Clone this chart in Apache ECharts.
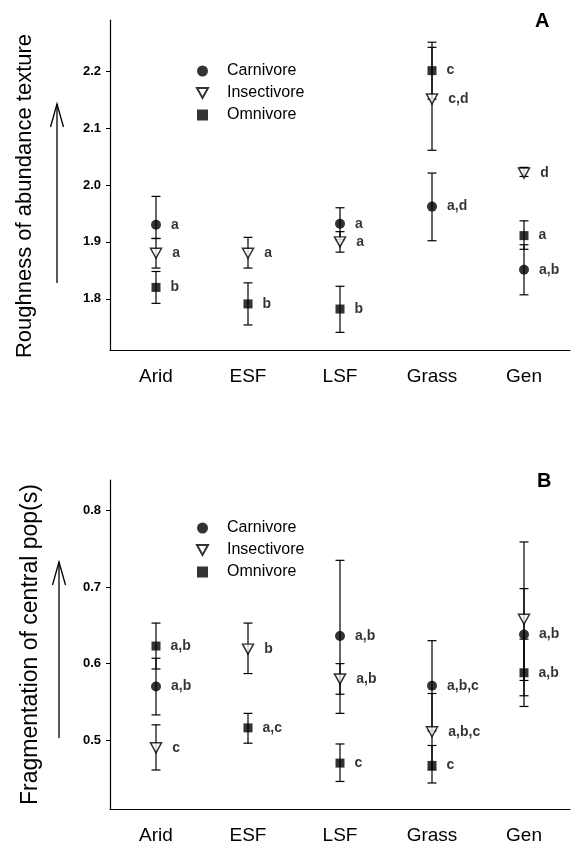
<!DOCTYPE html>
<html>
<head>
<meta charset="utf-8">
<script src="https://cdn.jsdelivr.net/npm/echarts@6/dist/echarts.min.js"></script>
<style>
  html, body { margin: 0; padding: 0; background: #fff; }
  #chart { width: 575px; height: 845px; }
</style>
</head>
<body>
<div id="chart"></div>
<script>
var habitats = ['Arid', 'ESF', 'LSF', 'Grass', 'Gen'];

// panel A - roughness of abundance texture
var roughCarnMean = [1.930, null, 1.932, 1.962, 1.851];
var roughCarnLow  = [1.906, null, 1.904, 1.902, 1.807];
var roughCarnHigh = [1.980, null, 1.960, 2.021, 1.895];
var roughCarnSig  = ['a', '', 'a', 'a,d', 'a,b'];

var roughInsMean = [1.880, 1.880, 1.900, 2.151, 2.021];
var roughInsLow  = [1.854, 1.854, 1.882, 2.061, 2.015];
var roughInsHigh = [1.906, 1.908, 1.918, 2.242, 2.031];
var roughInsSig  = ['a', 'a', 'a', 'c,d', 'd'];

var roughOmnMean = [1.820, 1.791, 1.782, 2.201, 1.911];
var roughOmnLow  = [1.792, 1.754, 1.741, 2.151, 1.887];
var roughOmnHigh = [1.848, 1.828, 1.822, 2.251, 1.937];
var roughOmnSig  = ['b', 'b', 'b', 'c', 'a'];

var roughTicks = [1.8, 1.9, 2.0, 2.1, 2.2];

// panel B - fragmentation of central pop(s)
var fragCarnMean = [0.570, null, 0.636, 0.571, 0.638];
var fragCarnLow  = [0.533, null, 0.535, 0.512, 0.578];
var fragCarnHigh = [0.607, null, 0.735, 0.630, 0.698];
var fragCarnSig  = ['a,b', '', 'a,b', 'a,b,c', 'a,b'];

var fragInsMean = [0.490, 0.619, 0.580, 0.511, 0.658];
var fragInsLow  = [0.461, 0.587, 0.560, 0.461, 0.558];
var fragInsHigh = [0.520, 0.653, 0.600, 0.561, 0.759];
var fragInsSig  = ['c', 'b', 'a,b', 'a,b,c', ''];

var fragOmnMean = [0.623, 0.516, 0.470, 0.467, 0.588];
var fragOmnLow  = [0.593, 0.496, 0.446, 0.444, 0.544];
var fragOmnHigh = [0.653, 0.535, 0.495, 0.493, 0.632];
var fragOmnSig  = ['a,b', 'a,c', 'c', 'c', 'a,b'];

var fragTicks = [0.5, 0.6, 0.7, 0.8];

var FONT = 'Arial, "Liberation Sans", Helvetica, sans-serif';
var triPath = 'path://M0,0L10,0L5,9Z';

var symbolStyles = {
  Carnivore: { symbol: 'circle', symbolSize: 10, itemStyle: { color: '#000' } },
  Insectivore: { symbol: triPath, symbolSize: [11, 10], itemStyle: { color: '#fff', borderColor: '#000', borderWidth: 1.5 } },
  Omnivore: { symbol: 'rect', symbolSize: 9, itemStyle: { color: '#000' } }
};

function points(name, mean, sig, idx) {
  var data = [];
  mean.forEach(function (m, i) {
    if (m != null) data.push({ value: [i, m], sig: sig[i] });
  });
  var st = symbolStyles[name];
  return {
    name: name,
    type: 'scatter',
    xAxisIndex: idx,
    yAxisIndex: idx,
    symbol: st.symbol,
    symbolSize: st.symbolSize,
    itemStyle: st.itemStyle,
    z: 3,
    emphasis: { disabled: true },
    label: {
      show: true,
      position: 'right',
      distance: 10,
      color: '#000',
      fontFamily: FONT,
      fontWeight: 'bold',
      fontSize: 14,
      formatter: function (p) { return p.data.sig; }
    },
    data: data
  };
}

function errorBars(low, high, idx) {
  var data = [];
  low.forEach(function (l, i) {
    if (l != null) data.push([i, l, high[i]]);
  });
  return {
    type: 'custom',
    xAxisIndex: idx,
    yAxisIndex: idx,
    silent: true,
    z: 2,
    encode: { x: 0, y: [1, 2] },
    renderItem: function (params, api) {
      var lo = api.coord([api.value(0), api.value(1)]);
      var hi = api.coord([api.value(0), api.value(2)]);
      var w = 4.5;
      var st = { stroke: '#000', lineWidth: 1.2, fill: null };
      return {
        type: 'group',
        children: [
          { type: 'line', shape: { x1: lo[0], y1: lo[1], x2: hi[0], y2: hi[1] }, style: st },
          { type: 'line', shape: { x1: lo[0] - w, y1: lo[1], x2: lo[0] + w, y2: lo[1] }, style: st },
          { type: 'line', shape: { x1: hi[0] - w, y1: hi[1], x2: hi[0] + w, y2: hi[1] }, style: st }
        ]
      };
    },
    data: data
  };
}

function xAxisFor(idx) {
  return {
    type: 'category',
    gridIndex: idx,
    data: habitats,
    boundaryGap: true,
    axisLine: { lineStyle: { color: '#000', width: 1.2 } },
    axisTick: { alignWithLabel: true, length: 5, lineStyle: { color: '#000' } },
    axisLabel: { color: '#000', fontFamily: FONT, fontSize: 19, margin: 17 },
    splitLine: { show: false }
  };
}

function yAxisFor(idx, min, max, ticks, name, nameSize, gap, shift) {
  return {
    type: 'value',
    gridIndex: idx,
    min: min,
    max: max,
    name: name,
    nameLocation: 'middle',
    nameRotate: 90,
    nameGap: gap,
    nameTextStyle: { color: '#000', fontFamily: FONT, fontSize: nameSize, padding: [0, shift, 0, 0] },
    axisLine: { show: true, lineStyle: { color: '#000', width: 1.2 } },
    axisTick: { show: true, length: 4, customValues: ticks, lineStyle: { color: '#000' } },
    axisLabel: {
      color: '#000', fontFamily: FONT, fontSize: 13, fontWeight: 'bold', margin: 9,
      customValues: ticks,
      formatter: function (v) { return v.toFixed(1); }
    },
    splitLine: { show: false }
  };
}

function legendAt(top) {
  return {
    orient: 'vertical',
    left: 191,
    top: top,
    itemWidth: 11,
    itemHeight: 11,
    itemGap: 6,
    selectedMode: false,
    textStyle: { color: '#000', fontFamily: FONT, fontSize: 16, lineHeight: 16, padding: [0, 0, 0, 14] },
    data: [
      { name: 'Carnivore', icon: 'circle' },
      { name: 'Insectivore', icon: triPath },
      { name: 'Omnivore', icon: 'rect' }
    ]
  };
}

function arrow(x, y1, y2) {
  return {
    type: 'group',
    children: [
      { type: 'line', shape: { x1: x, y1: y1, x2: x, y2: y2 }, style: { stroke: '#000', lineWidth: 1.3 } },
      { type: 'polyline', shape: { points: [[x - 6.5, y1 + 23], [x, y1], [x + 6.5, y1 + 23]] }, style: { stroke: '#000', lineWidth: 1.3, fill: null } }
    ]
  };
}

var chart = echarts.init(document.getElementById('chart'), null, { renderer: 'canvas' });

var option = {
  backgroundColor: '#fff',
  animation: false,
  grid: [
    { left: 110, top: 20, width: 460, height: 330 },
    { left: 110, top: 480, width: 460, height: 329 }
  ],
  legend: [legendAt(58), legendAt(515)],
  xAxis: [xAxisFor(0), xAxisFor(1)],
  yAxis: [
    yAxisFor(0, 1.71, 2.29, roughTicks, 'Roughness of abundance texture', 22, 74, 22),
    yAxisFor(1, 0.41, 0.84, fragTicks, 'Fragmentation of central pop(s)', 23, 68, 0)
  ],
  graphic: [
    arrow(57, 104, 283),
    arrow(59, 562, 738),
    { type: 'text', left: 535, top: 11, style: { text: 'A', font: 'bold 20px ' + FONT, fill: '#000' } },
    { type: 'text', left: 537, top: 471, style: { text: 'B', font: 'bold 20px ' + FONT, fill: '#000' } }
  ],
  series: [
    errorBars(roughCarnLow, roughCarnHigh, 0),
    errorBars(roughInsLow, roughInsHigh, 0),
    errorBars(roughOmnLow, roughOmnHigh, 0),
    points('Carnivore', roughCarnMean, roughCarnSig, 0),
    points('Insectivore', roughInsMean, roughInsSig, 0),
    points('Omnivore', roughOmnMean, roughOmnSig, 0),
    errorBars(fragCarnLow, fragCarnHigh, 1),
    errorBars(fragInsLow, fragInsHigh, 1),
    errorBars(fragOmnLow, fragOmnHigh, 1),
    points('Carnivore', fragCarnMean, fragCarnSig, 1),
    points('Insectivore', fragInsMean, fragInsSig, 1),
    points('Omnivore', fragOmnMean, fragOmnSig, 1)
  ]
};

chart.setOption(option);
</script>
</body>
</html>
